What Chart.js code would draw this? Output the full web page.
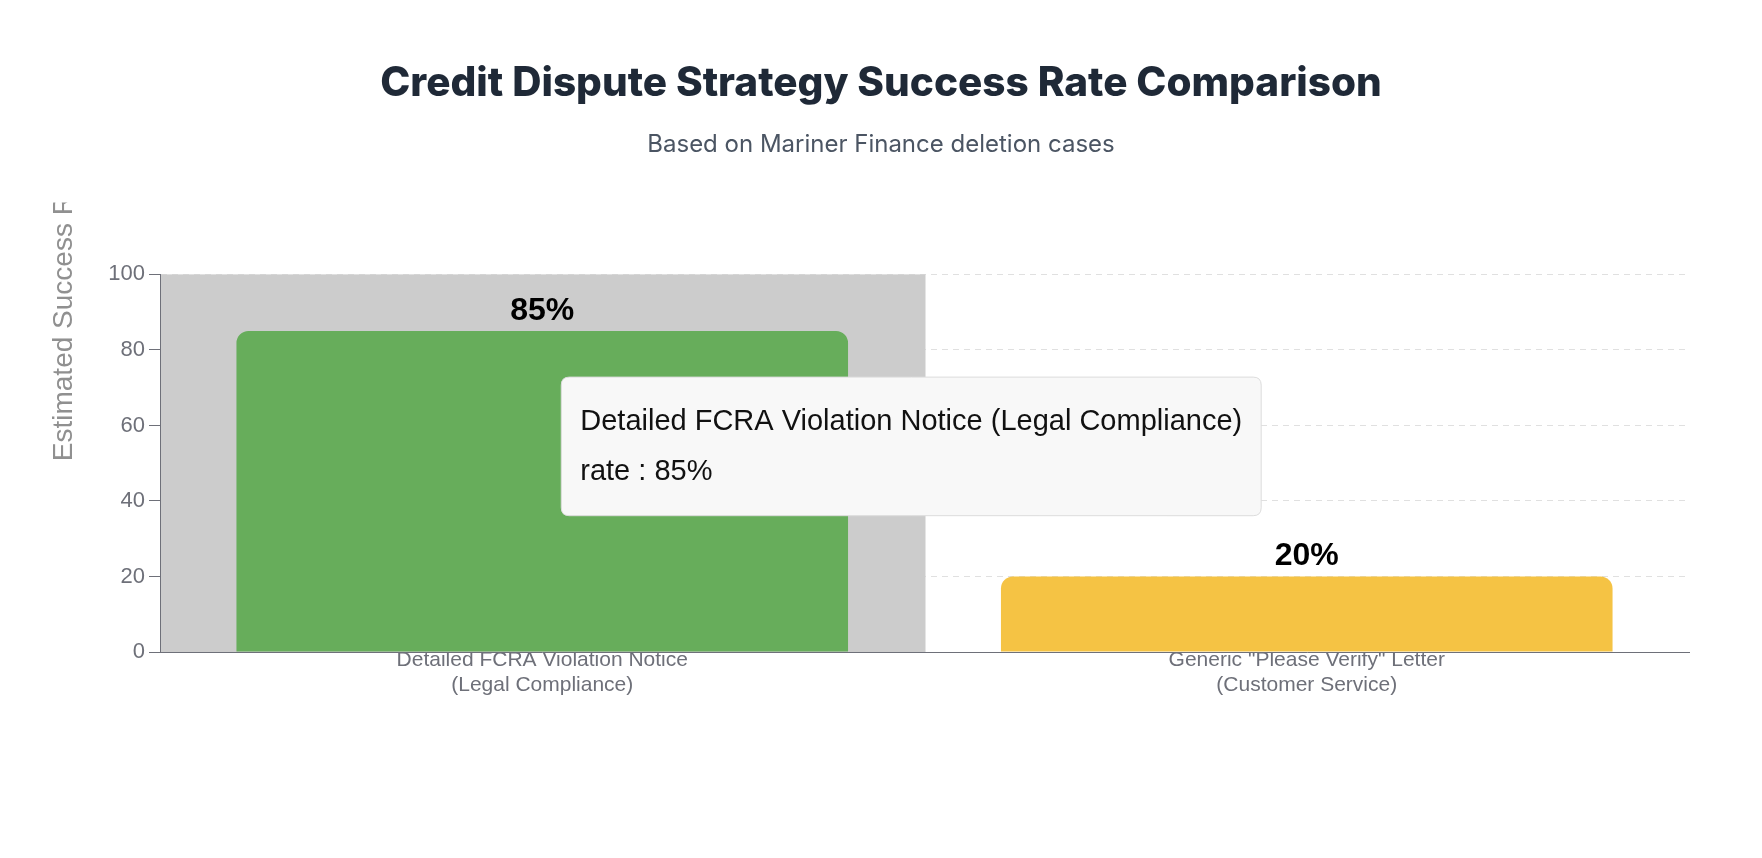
<!DOCTYPE html>
<html>
<head>
<meta charset="utf-8">
<title>Credit Dispute Strategy Success Rate Comparison</title>
<script src="https://cdn.jsdelivr.net/npm/chart.js@4.4.1/dist/chart.umd.min.js"></script>
<style>
    html, body { margin: 0; padding: 0; background: #ffffff; }
    #wrap { width: 1762px; height: 858px; position: relative; }
</style>
</head>
<body>
<div id="wrap"><canvas id="grafico"></canvas></div>
<script>
// data
const categories = [
    ['Detailed FCRA Violation Notice', '(Legal Compliance)'],
    ['Generic "Please Verify" Letter', '(Customer Service)']
];
const rates = [85, 20];
const seriesName = 'rate';
const yMin = 0;
const yMax = 100;
const yStep = 20;
const yTitle = 'Estimated Success Rate (%)';
const hoverIndex = 0;   // category under the pointer in the reference

const labelFont = '"Helvetica Neue", Helvetica, Arial, "Liberation Sans", sans-serif';
const axisGrey = '#6e7079';

// grey band behind the hovered category + value labels + clipped y title
const extras = {
    id: 'extras',
    beforeDatasetsDraw(chart) {
        const ctx = chart.ctx;
        const area = chart.chartArea;
        const x = chart.scales.x;
        const band = x.width / categories.length;
        const cx = x.getPixelForValue(hoverIndex);
        ctx.save();
        ctx.fillStyle = '#cccccc';
        ctx.fillRect(Math.max(cx - band / 2, area.left + 1), area.top, band, area.bottom - area.top);
        ctx.restore();
    },
    afterDatasetsDraw(chart) {
        const ctx = chart.ctx;
        const meta = chart.getDatasetMeta(0);
        ctx.save();
        ctx.font = 'bold 32px ' + labelFont;
        ctx.fillStyle = '#000000';
        ctx.textAlign = 'center';
        ctx.textBaseline = 'middle';
        meta.data.forEach(function (bar, i) {
            ctx.fillText(rates[i] + '%', bar.x, bar.y - 20);
        });
        ctx.restore();

        // y axis name, cut off at the top like in the reference
        const area = chart.chartArea;
        const mid = (area.top + area.bottom) / 2;
        ctx.save();
        ctx.beginPath();
        ctx.rect(0, area.top - 72, area.left, area.bottom);
        ctx.clip();
        ctx.translate(64, mid - 2);
        ctx.rotate(-Math.PI / 2);
        ctx.font = '300 28px ' + labelFont;
        ctx.fillStyle = '#909090';
        ctx.textAlign = 'left';
        ctx.textBaseline = 'middle';
        ctx.fillText(yTitle, 0, 0);
        ctx.restore();
    }
};

Chart.Tooltip.positioners.pointer = function (elements) {
    if (!elements.length) return false;
    const el = elements[0].element;
    return {
        x: el.x + 27,
        y: this.chart.scales.y.getPixelForValue(72.8),
        xAlign: 'left',
        yAlign: 'top'
    };
};

const ctx = document.getElementById('grafico').getContext('2d');
const graficoBarras = new Chart(ctx, {
    type: 'bar',
    data: {
        labels: categories,
        datasets: [{
            label: seriesName,
            data: rates,
            backgroundColor: ['#67ad5b', '#f5c344'],
            borderWidth: 0,
            borderRadius: 12,
            borderSkipped: 'start',
            barPercentage: 0.8,
            categoryPercentage: 1.0
        }]
    },
    options: {
        responsive: true,
        maintainAspectRatio: false,
        animation: false,
        events: [],
        layout: { padding: 0 },
        plugins: {
            legend: { display: false },
            title: {
                display: true,
                text: 'Credit Dispute Strategy Success Rate Comparison',
                color: '#1f2937',
                font: { family: 'Inter, "Noto Sans", sans-serif', size: 40.5, weight: 800 },
                padding: { top: 60, bottom: 22 }
            },
            subtitle: {
                display: true,
                text: 'Based on Mariner Finance deletion cases',
                color: '#4b5563',
                font: { family: 'Inter, "Noto Sans", sans-serif', size: 24 },
                padding: { top: 0, bottom: 115 }
            },
            tooltip: {
                enabled: true,
                position: 'pointer',
                xAlign: 'left',
                yAlign: 'top',
                caretSize: 0,
                caretPadding: 0,
                cornerRadius: 8,
                displayColors: false,
                backgroundColor: '#f8f8f8',
                borderColor: '#dcdcdc',
                borderWidth: 1,
                titleColor: '#111111',
                bodyColor: '#111111',
                titleFont: { family: labelFont, size: 29, weight: 'normal' },
                bodyFont: { family: labelFont, size: 29 },
                titleMarginBottom: 16,
                padding: { top: 27, bottom: 26, left: 19, right: 19 },
                callbacks: {
                    title: function (items) {
                        return categories[items[0].dataIndex].join(' ');
                    },
                    label: function (item) {
                        return seriesName + ' : ' + item.raw + '%';
                    }
                }
            }
        },
        scales: {
            x: {
                grid: { display: false, drawTicks: false },
                border: { display: true, color: axisGrey, width: 1, z: 1 },
                ticks: {
                    color: axisGrey,
                    padding: -4,
                    maxRotation: 0,
                    font: { family: labelFont, size: 21, lineHeight: 1.18 }
                },
                afterFit: function (scale) { scale.height = 206; }
            },
            y: {
                min: yMin,
                max: yMax,
                ticks: {
                    stepSize: yStep,
                    color: axisGrey,
                    padding: 4,
                    font: { family: labelFont, size: 22 }
                },
                grid: {
                    color: '#e0e0e0',
                    tickColor: axisGrey,
                    tickLength: 11,
                    lineWidth: 1
                },
                border: { display: true, color: axisGrey, width: 1, dash: [6, 5], z: 1 },
                afterFit: function (scale) { scale.width = 160; }
            },
            rightGap: {
                type: 'linear',
                position: 'right',
                display: true,
                grid: { display: false, drawTicks: false },
                border: { display: false },
                ticks: { display: false },
                afterFit: function (scale) { scale.width = 73; }
            }
        }
    },
    plugins: [extras]
});

graficoBarras.tooltip.setActiveElements([{ datasetIndex: 0, index: hoverIndex }], { x: 0, y: 0 });
graficoBarras.update('none');
</script>
</body>
</html>
